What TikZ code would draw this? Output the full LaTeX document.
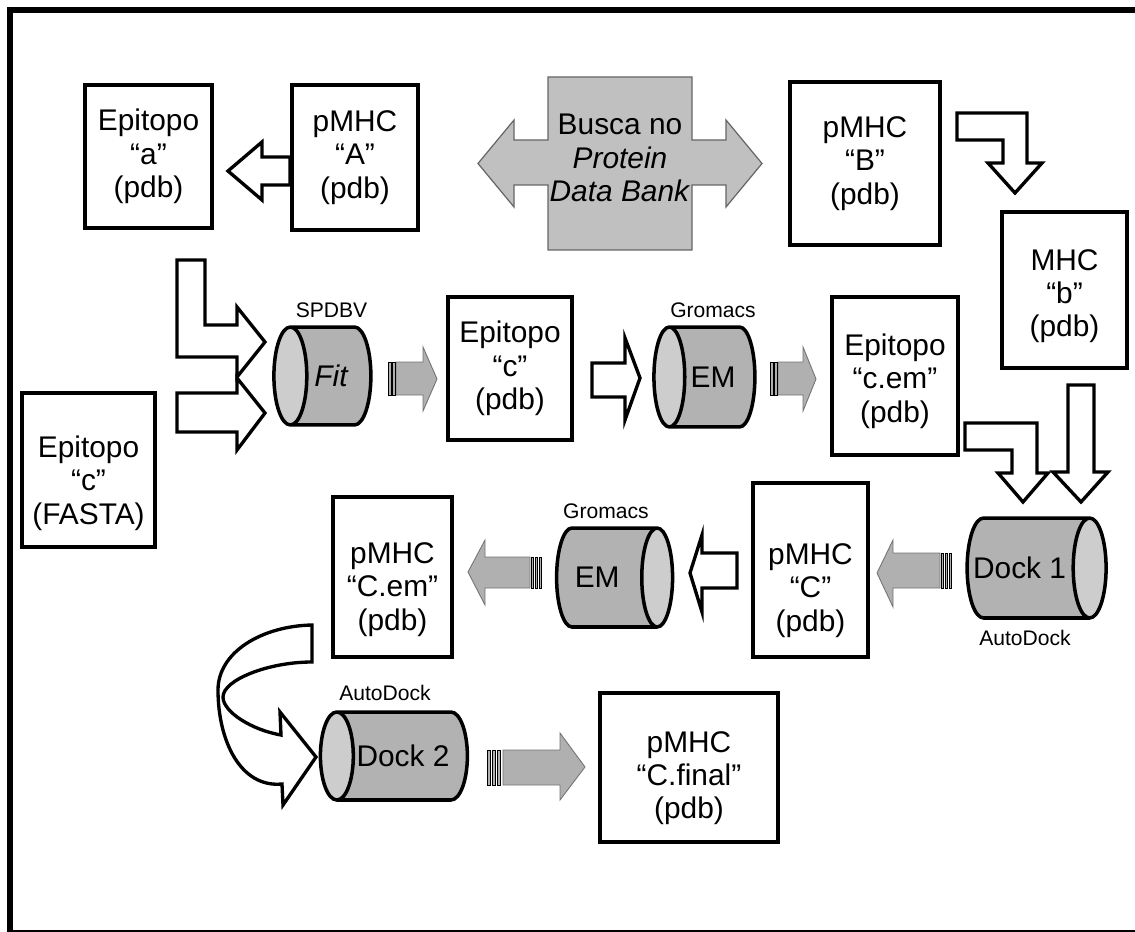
\documentclass[tikz,border=0pt]{standalone}
\usepackage{fontspec}
\setmainfont{Liberation Sans}
\usetikzlibrary{positioning,shapes.geometric}

\definecolor{cylbody}{RGB}{178,178,178}
\definecolor{cylend}{RGB}{205,205,205}
\definecolor{searchgray}{RGB}{192,192,192}
\definecolor{flowgray}{RGB}{176,176,176}

\tikzset{
  box/.style={draw,line width=2.8pt,fill=white,inner sep=0pt,align=center,
    font=\fontsize{17}{19}\selectfont,execute at begin node={\rule{0pt}{#1}}},
  box/.default=0pt,
  tool/.style={cylinder,draw,line width=2pt,aspect=1.5,inner sep=0pt,
    cylinder uses custom fill,cylinder body fill=cylbody,cylinder end fill=cylend,
    font=\fontsize{17}{19}\selectfont},
  toolname/.style={inner sep=0pt,font=\fontsize{12}{14}\selectfont},
  hollow/.style={draw,line width=1.9pt,fill=white},
  flow/.style={draw=black!55,line width=0.5pt,fill=flowgray},
  stripe/.style={draw=black,line width=0.5pt,fill=flowgray},
}

\begin{document}
\begin{tikzpicture}[x=0.02cm,y=-0.02cm]
  \useasboundingbox (0,0) rectangle (1135,932);
  \draw[line width=3.4pt] (1140,10) -- (10,10) -- (10,940);
  \draw[line width=1.4pt] (10,931) -- (1140,931);

  \draw[draw=black!60,line width=0.7pt,fill=searchgray]
    (548,77) -- (692,77) -- (692,140) -- (726,140) -- (726,120) -- (762,163.5)
    -- (726,207) -- (726,185) -- (692,185) -- (692,250) -- (548,250) -- (548,185)
    -- (514,185) -- (514,207) -- (478,163.5) -- (514,120) -- (514,140) -- (548,140) -- cycle;
  \node[align=center,font=\fontsize{17}{19}\selectfont] (search) at (620,158)
    {Busca no\\\textit{Protein}\\\textit{Data Bank}};

  \node[box,minimum width=2.54cm,minimum height=2.86cm] (epiA) at (148.5,156.5) {Epitopo\\“a”\\(pdb)};
  \node[box,minimum width=2.52cm,minimum height=2.90cm] (pmhcA) at (355,157.5) {pMHC\\“A”\\(pdb)};
  \node[box,minimum width=3.00cm,minimum height=3.26cm] (pmhcB) at (865,163.5) {pMHC\\“B”\\(pdb)};
  \node[box=57pt,minimum width=2.50cm,minimum height=3.12cm] (mhcB) at (1064.5,290) {MHC\\“b”\\(pdb)};
  \node[box=65pt,minimum width=2.66cm,minimum height=3.08cm] (epiFasta) at (88.5,470) {Epitopo\\“c”\\(FASTA)};
  \node[box,minimum width=2.48cm,minimum height=2.86cm] (epiC) at (510,368.5) {Epitopo\\“c”\\(pdb)};
  \node[box=56pt,minimum width=2.52cm,minimum height=3.16cm] (epiCem) at (895,376) {Epitopo\\“c.em”\\(pdb)};
  \node[box=73pt,minimum width=2.30cm,minimum height=3.48cm] (pmhcC) at (810.5,570) {pMHC\\“C”\\(pdb)};
  \node[box=64pt,minimum width=2.38cm,minimum height=3.20cm] (pmhcCem) at (392.5,577) {pMHC\\“C.em”\\(pdb)};
  \node[box=62pt,minimum width=3.56cm,minimum height=2.98cm] (pmhcFinal) at (689,767.5) {pMHC\\“C.final”\\(pdb)};

  \node[tool,shape border rotate=180,minimum height=1.94cm,minimum width=1.96cm] (fit) at (331.5,376) {\textit{Fit}};
  \node[tool,shape border rotate=180,minimum height=2.02cm,minimum width=2.00cm] (emA) at (713,377) {EM};
  \node[tool,minimum height=2.78cm,minimum width=2.00cm] (dockA) at (1027.5,568) {\makebox[0pt]{Dock 1\kern9pt}};
  \node[tool,minimum height=2.32cm,minimum width=1.98cm] (emB) at (606,577.5) {\makebox[0pt]{EM\kern10pt}};
  \node[tool,shape border rotate=180,minimum height=2.94cm,minimum width=1.76cm] (dockB) at (403,756) {Dock 2};

  \node[toolname,above=4pt of fit] (spdbv) {SPDBV};
  \node[toolname,above=4pt of emA] (gromacsA) {Gromacs};
  \node[toolname,above=4pt of emB] (gromacsB) {Gromacs};
  \node[toolname,below=6pt of dockA,xshift=-0.05cm] (autodockA) {AutoDock};
  \node[toolname,above=5pt of dockB,xshift=-0.36cm] (autodockB) {AutoDock};

  \draw[hollow] (290,157) -- (262,157) -- (262,142) -- (228,171) -- (262,200) -- (262,185) -- (290,185) -- cycle;
  \draw[hollow] (957,113) -- (1027,113) -- (1027,163) -- (1042,163) -- (1015,193) -- (988,163) -- (1003,163) -- (1003,140) -- (957,140) -- cycle;
  \draw[hollow] (177,260) -- (205,260) -- (205,325) -- (237,325) -- (237,307) -- (265,342) -- (237,377) -- (237,357) -- (177,357) -- cycle;
  \draw[hollow] (177,393) -- (237,393) -- (237,378) -- (265,413) -- (237,450) -- (237,432) -- (177,432) -- cycle;
  \draw[hollow] (592,363) -- (625,363) -- (625,338) -- (640,378) -- (625,420) -- (625,397) -- (592,397) -- cycle;
  \draw[hollow] (965,423) -- (1037,423) -- (1037,473) -- (1048,473) -- (1023,502) -- (998,473) -- (1012,473) -- (1012,450) -- (965,450) -- cycle;
  \draw[hollow] (1068,385) -- (1094,385) -- (1094,472) -- (1108,472) -- (1081,502) -- (1053,472) -- (1068,472) -- cycle;
  \draw[hollow] (737,553) -- (702,553) -- (702,535) -- (690,573) -- (702,612) -- (702,588) -- (737,588) -- cycle;
  \draw[hollow] (312,625) .. controls (262,626) and (218,652) .. (218,690)
    .. controls (218,740) and (240,788) .. (282,784) -- (283,805) -- (316,757) -- (280,712) -- (281,735)
    .. controls (252,730) and (223,712) .. (223,697) .. controls (223,680) and (268,662) .. (312,662) -- cycle;

  \draw[flow] (396,362) -- (423,362) -- (423,347) -- (437,379) -- (423,411) -- (423,395) -- (396,395) -- cycle;
  \foreach \x in {388,392} \draw[stripe] (\x,362) rectangle +(3,33);
  \draw[flow] (778,362) -- (803,362) -- (803,347) -- (816,379) -- (803,411) -- (803,395) -- (778,395) -- cycle;
  \foreach \x in {770,774} \draw[stripe] (\x,362) rectangle +(3,33);
  \draw[flow] (940,553) -- (893,553) -- (893,540) -- (877,573) -- (893,607) -- (893,588) -- (940,588) -- cycle;
  \foreach \x in {941,945,949} \draw[stripe] (\x,553) rectangle +(2.5,35);
  \draw[flow] (530,557) -- (485,557) -- (485,540) -- (468,572) -- (485,605) -- (485,588) -- (530,588) -- cycle;
  \foreach \x in {531,535,539} \draw[stripe] (\x,557) rectangle +(2.5,31);
  \draw[flow] (503,750) -- (560,750) -- (560,733) -- (585,767) -- (560,800) -- (560,785) -- (503,785) -- cycle;
  \foreach \x in {487,492,497} \draw[stripe] (\x,750) rectangle +(3,35);
\end{tikzpicture}
\end{document}
